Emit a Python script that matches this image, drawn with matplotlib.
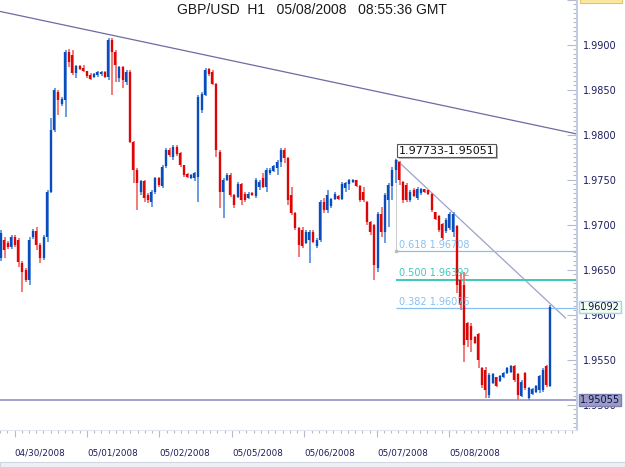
import matplotlib
matplotlib.use("Agg")
import matplotlib.pyplot as plt
import matplotlib.patheffects as pe
import matplotlib.transforms as mtransforms
from matplotlib.patches import Rectangle
from matplotlib.ticker import MultipleLocator, FixedLocator, FormatStrFormatter
import numpy as np

title = "GBP/USD  H1   05/08/2008   08:55:36 GMT"

opens = [1.9663, 1.9683, 1.9680, 1.9676, 1.9687, 1.9683, 1.9658, 1.9650, 1.9639, 1.9687,
         1.9693, 1.9678, 1.9663, 1.9687, 1.9737, 1.9806, 1.9848, 1.9834, 1.9839, 1.9892,
         1.9889, 1.9869, 1.9877, 1.9874, 1.9871, 1.9867, 1.9864, 1.9867, 1.9868, 1.9870,
         1.9864, 1.9906, 1.9892, 1.9863, 1.9876, 1.9859, 1.9870, 1.9792, 1.9761, 1.9737,
         1.9749, 1.9733, 1.9726, 1.9737, 1.9752, 1.9743, 1.9766, 1.9783, 1.9776, 1.9787,
         1.9780, 1.9767, 1.9757, 1.9752, 1.9752, 1.9753, 1.9828, 1.9844, 1.9873, 1.9870,
         1.9857, 1.9781, 1.9737, 1.9750, 1.9756, 1.9733, 1.9731, 1.9746, 1.9734, 1.9730,
         1.9736, 1.9732, 1.9742, 1.9752, 1.9742, 1.9758, 1.9760, 1.9763, 1.9770, 1.9783,
         1.9774, 1.9733, 1.9713, 1.9697, 1.9694, 1.9680, 1.9683, 1.9692, 1.9677, 1.9683,
         1.9726, 1.9717, 1.9721, 1.9729, 1.9732, 1.9729, 1.9741, 1.9746, 1.9748, 1.9750,
         1.9743, 1.9737, 1.9726, 1.9703, 1.9700, 1.9652, 1.9712, 1.9692, 1.9728, 1.9743,
         1.9761, 1.9770, 1.9748, 1.9744, 1.9728, 1.9739, 1.9730, 1.9736, 1.9740, 1.9739,
         1.9734, 1.9714, 1.9710, 1.9701, 1.9693, 1.9697, 1.9692, 1.9699, 1.9639, 1.9633,
         1.9591, 1.9588, 1.9576, 1.9579, 1.9541, 1.9539, 1.9511, 1.9524, 1.9531, 1.9527,
         1.9531, 1.9536, 1.9537, 1.9543, 1.9534, 1.9510, 1.9536, 1.9508, 1.9512, 1.9514,
         1.9517, 1.9517, 1.9543, 1.9521]
highs = [1.9694, 1.9687, 1.9682, 1.9689, 1.9689, 1.9686, 1.9660, 1.9652, 1.9687, 1.9696,
         1.9698, 1.9680, 1.9689, 1.9739, 1.9819, 1.9852, 1.9850, 1.9842, 1.9894, 1.9896,
         1.9894, 1.9878, 1.9878, 1.9878, 1.9871, 1.9869, 1.9869, 1.9871, 1.9871, 1.9871,
         1.9908, 1.9908, 1.9894, 1.9877, 1.9877, 1.9872, 1.9872, 1.9793, 1.9763, 1.9750,
         1.9750, 1.9736, 1.9739, 1.9753, 1.9753, 1.9767, 1.9786, 1.9786, 1.9789, 1.9789,
         1.9781, 1.9767, 1.9758, 1.9757, 1.9759, 1.9844, 1.9848, 1.9874, 1.9874, 1.9872,
         1.9858, 1.9783, 1.9752, 1.9758, 1.9758, 1.9734, 1.9748, 1.9747, 1.9737, 1.9737,
         1.9737, 1.9752, 1.9750, 1.9758, 1.9763, 1.9763, 1.9767, 1.9772, 1.9786, 1.9786,
         1.9776, 1.9742, 1.9714, 1.9698, 1.9698, 1.9694, 1.9694, 1.9694, 1.9686, 1.9728,
         1.9730, 1.9739, 1.9730, 1.9737, 1.9733, 1.9748, 1.9748, 1.9751, 1.9751, 1.9750,
         1.9744, 1.9742, 1.9727, 1.9704, 1.9701, 1.9714, 1.9720, 1.9736, 1.9747, 1.9764,
         1.97733, 1.9771, 1.9749, 1.9747, 1.9739, 1.9741, 1.9742, 1.9741, 1.9740, 1.9739,
         1.9736, 1.9714, 1.9711, 1.9702, 1.9708, 1.9714, 1.9714, 1.9700, 1.9647, 1.9648,
         1.9592, 1.9591, 1.9577, 1.9580, 1.9542, 1.9542, 1.9536, 1.9536, 1.9531, 1.9533,
         1.9537, 1.9542, 1.9544, 1.9544, 1.9536, 1.9528, 1.9537, 1.9520, 1.9519, 1.9522,
         1.9533, 1.9541, 1.9544, 1.9611]
lows = [1.9660, 1.9663, 1.9673, 1.9673, 1.9676, 1.9653, 1.9626, 1.9637, 1.9633, 1.9684,
        1.9672, 1.9658, 1.9661, 1.9681, 1.9736, 1.9803, 1.9822, 1.9832, 1.9820, 1.9876,
        1.9867, 1.9863, 1.9872, 1.9870, 1.9863, 1.9861, 1.9863, 1.9864, 1.9866, 1.9863,
        1.9861, 1.9844, 1.9859, 1.9859, 1.9852, 1.9856, 1.9791, 1.9747, 1.9717, 1.9733,
        1.9726, 1.9724, 1.9720, 1.9734, 1.9742, 1.9741, 1.9763, 1.9776, 1.9772, 1.9777,
        1.9764, 1.9753, 1.9752, 1.9751, 1.9749, 1.9726, 1.9824, 1.9843, 1.9866, 1.9856,
        1.9776, 1.9719, 1.9708, 1.9749, 1.9731, 1.9719, 1.9730, 1.9722, 1.9726, 1.9729,
        1.9732, 1.9730, 1.9739, 1.9741, 1.9737, 1.9756, 1.9759, 1.9756, 1.9764, 1.9769,
        1.9722, 1.9711, 1.9694, 1.9664, 1.9674, 1.9679, 1.9658, 1.9680, 1.9674, 1.9681,
        1.9713, 1.9713, 1.9719, 1.9728, 1.9728, 1.9728, 1.9737, 1.9739, 1.9747, 1.9742,
        1.9726, 1.9726, 1.9700, 1.9689, 1.9639, 1.9648, 1.9687, 1.9680, 1.9698, 1.9728,
        1.9747, 1.9744, 1.9724, 1.9726, 1.9726, 1.9731, 1.9728, 1.9733, 1.9736, 1.9733,
        1.9714, 1.9706, 1.9692, 1.9683, 1.9691, 1.9694, 1.9687, 1.9624, 1.9606, 1.9548,
        1.9564, 1.9559, 1.9568, 1.9541, 1.9519, 1.9508, 1.9508, 1.9523, 1.9520, 1.9526,
        1.9530, 1.9534, 1.9536, 1.9526, 1.95051, 1.9509, 1.9517, 1.9506, 1.9511, 1.9513,
        1.9513, 1.9514, 1.9520, 1.9520]
closes = [1.9691, 1.9672, 1.9676, 1.9687, 1.9678, 1.9659, 1.9648, 1.9639, 1.9683, 1.9693,
          1.9678, 1.9663, 1.9687, 1.9737, 1.9806, 1.9850, 1.9839, 1.9840, 1.9892, 1.9881,
          1.9869, 1.9877, 1.9873, 1.9871, 1.9866, 1.9862, 1.9868, 1.9870, 1.9870, 1.9864,
          1.9906, 1.9892, 1.9878, 1.9876, 1.9861, 1.9870, 1.9792, 1.9761, 1.9747, 1.9749,
          1.9730, 1.9728, 1.9737, 1.9752, 1.9744, 1.9764, 1.9783, 1.9778, 1.9787, 1.9779,
          1.9767, 1.9756, 1.9753, 1.9756, 1.9758, 1.9842, 1.9846, 1.9872, 1.9868, 1.9857,
          1.9783, 1.9737, 1.9750, 1.9756, 1.9733, 1.9722, 1.9746, 1.9728, 1.9728, 1.9734,
          1.9733, 1.9750, 1.9748, 1.9742, 1.9761, 1.9761, 1.9766, 1.9770, 1.9783, 1.9774,
          1.9728, 1.9713, 1.9697, 1.9678, 1.9677, 1.9692, 1.9692, 1.9681, 1.9683, 1.9726,
          1.9717, 1.9733, 1.9729, 1.9734, 1.9729, 1.9746, 1.9747, 1.9750, 1.9750, 1.9743,
          1.9728, 1.9728, 1.9703, 1.9692, 1.9656, 1.9712, 1.9692, 1.9733, 1.9744, 1.9761,
          1.9772, 1.9750, 1.9728, 1.9728, 1.9737, 1.9732, 1.9740, 1.9740, 1.9737, 1.9734,
          1.9717, 1.9707, 1.9694, 1.9686, 1.9706, 1.9712, 1.9712, 1.9633, 1.9611, 1.9567,
          1.9572, 1.9572, 1.9569, 1.9550, 1.9522, 1.9517, 1.9533, 1.9534, 1.9521, 1.9532,
          1.9536, 1.9541, 1.9543, 1.9528, 1.9511, 1.9526, 1.9519, 1.9519, 1.9518, 1.9521,
          1.9532, 1.9539, 1.9522, 1.96092]

date_labels = ["04/30/2008", "05/01/2008", "05/02/2008", "05/05/2008",
               "05/06/2008", "05/07/2008", "05/08/2008"]
date_pos = [3.9, 24.2, 44.2, 64.5, 84.6, 104.9, 124.9]

# long resistance line
trend_x = [0, 160.5]
trend_y = [1.99372, 1.98011]
# short down trend line from the swing high
down_x = [110, 157.3]
down_y = [1.97733, 1.95967]

swing_idx = 110
swing_high = 1.97733
swing_low = 1.95051
fib_ratios = [0.618, 0.500, 0.382]
fib_levels = [1.96708, 1.96392, 1.96075]
support = 1.95055
last_price = 1.96092

W, H = 625, 467
fig = plt.figure(figsize=(W / 100, H / 100), dpi=100)
ax = fig.add_axes([0, 37 / H, 577 / W, 430 / H])
ax.set_xlim(-0.14, 160.5)
ax.set_ylim(1.94722, 1.995)

o = np.array(opens); c = np.array(closes)
hi = np.array(highs); lo = np.array(lows)
x = np.arange(len(o))
up = c >= o
body_lo = np.minimum(o, c)
body_hi = np.maximum(o, c)
small = (body_hi - body_lo) < 0.0001
body_lo = np.where(small, body_lo - 0.00005, body_lo)
body_hi = np.where(small, body_hi + 0.00005, body_hi)

wick_col = np.where(up, "#5f93de", "#f07070")
body_col = np.where(up, "#0a4cbc", "#dd0606")
ax.vlines(x + 0.12, lo, hi, colors=list(wick_col), lw=1.3, zorder=3)
ax.vlines(x, body_lo, body_hi, colors=list(body_col), lw=1.7, zorder=4)

# lines
ax.plot(trend_x, trend_y, color="#6c6ca4", lw=0.9, zorder=2)
ax.plot(down_x, down_y, color="#9ea2c8", lw=0.9, zorder=2)
ax.axhline(support, color="#9c9ccc", lw=1.3, zorder=2)

# fibonacci
fib_cols = ["#86c0f2", "#3cc8bc", "#86c0f2"]
fib_lw = [0.9, 1.4, 0.9]
for r, lvl, col, lw in zip(fib_ratios, fib_levels, fib_cols, fib_lw):
    ax.hlines(lvl, swing_idx, 160.5, colors=col, lw=lw, zorder=2)
    ax.annotate(f"{r:.3f} {lvl:.5f}", (swing_idx, lvl), xytext=(2.5, 1.2),
                textcoords="offset points", fontsize=7, color=col,
                va="bottom", ha="left", zorder=5)
ax.vlines(swing_idx, fib_levels[0], swing_high, colors="#cccccc", lw=0.7, zorder=2)
ax.plot([swing_idx], [fib_levels[0]], marker="s", ms=2, color="#bbbbbb", zorder=3)

t = ax.annotate(f"{swing_high:.5f}-{swing_low:.5f}", (swing_idx, swing_high),
                xytext=(2, 2.5), textcoords="offset points", fontsize=8,
                color="#111111", va="bottom", ha="left", zorder=6,
                bbox=dict(boxstyle="square,pad=0.15", fc="white", ec="#555555", lw=0.8))
t.get_bbox_patch().set_path_effects(
    [pe.withSimplePatchShadow(offset=(1.5, -1.5), shadow_rgbFace="#999999", alpha=0.7)])

# axes styling
for s in ["top", "left"]:
    ax.spines[s].set_visible(False)
ax.spines["right"].set_color("#c2cce0")
ax.spines["right"].set_linewidth(1.5)
ax.spines["bottom"].set_color("#e0e5ee")
ax.spines["bottom"].set_linewidth(0.8)

ax.yaxis.tick_right()
ax.yaxis.set_major_locator(MultipleLocator(0.005))
ax.yaxis.set_minor_locator(MultipleLocator(0.0005))
ax.yaxis.set_major_formatter(FormatStrFormatter("%.4f"))
ax.tick_params(axis="y", which="major", direction="in", length=7, width=0.8,
               color="#b4bccc", labelsize=7, labelcolor="#1c1c5c", pad=4)
ax.tick_params(axis="y", which="minor", direction="in", length=3, width=0.8,
               color="#b4bccc")

ax.set_xticks(date_pos)
ax.set_xticklabels(date_labels, ha="left")
minor_x = np.arange(date_pos[0] - 20.17, 160.5, 2.017)
ax.xaxis.set_minor_locator(FixedLocator(minor_x))
ax.tick_params(axis="x", which="major", direction="out", length=5, width=0.8,
               color="#b4bccc", labelsize=6.3, labelcolor="#1c1c5c", pad=8)
ax.tick_params(axis="x", which="minor", direction="out", length=2, width=0.8,
               color="#b4bccc")

# price tags on the right axis
blend = mtransforms.blended_transform_factory(ax.transAxes, ax.transData)
ax.text(1.005, last_price, f"{last_price:.5f}", transform=blend, fontsize=7,
        color="#101040", va="center", ha="left", clip_on=False, zorder=10,
        bbox=dict(boxstyle="square,pad=0.12", fc="#f2fdf2", ec="#9fd6ea", lw=1))
ax.text(1.005, support, f"{support:.5f}", transform=blend, fontsize=7,
        color="#101040", va="center", ha="left", clip_on=False, zorder=10,
        bbox=dict(boxstyle="square,pad=0.12", fc="#9c9cc8", ec="#8080b0", lw=1))

fig.text(312 / W, 1 - 10 / H, title, ha="center", va="center", fontsize=10,
         family="Liberation Sans", color="#1a1a1a")

# yellow tag clipped at top right, scroll strip at bottom
fig.patches.append(Rectangle((580 / W, 464 / H), 42 / W, 4 / H, transform=fig.transFigure,
                             fc="#fbe8a2", ec="#e2c46a", lw=0.8))
fig.patches.append(Rectangle((0, 0), 1, 5 / H, transform=fig.transFigure,
                             fc="#edf0f5", ec="#d0d6e0", lw=0.8))

fig.savefig("out.png", dpi=100)
